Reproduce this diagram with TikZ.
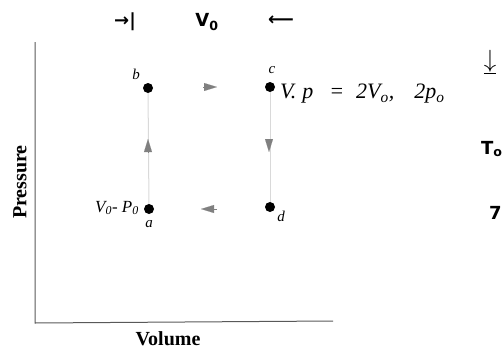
\documentclass[tikz,border=0pt]{standalone}
\usepackage{fontspec}
\setmainfont{Liberation Serif}
\newfontfamily\hand{DejaVu Sans}
\usetikzlibrary{arrows.meta}
\begin{document}
\begin{tikzpicture}[x=1pt,y=-1pt,
  dot/.style={circle,fill=black,inner sep=0pt,minimum size=10pt},
  seg/.style={draw=black!15,line width=1pt},
  tip/.style={-{Triangle[length=13pt,width=8pt]},draw=black!50,line width=0.1pt,color=black!50},
  lab/.style={inner sep=0pt,font=\itshape\fontsize{15}{15}\selectfont},
  hw/.style={inner sep=0pt,font=\hand\bfseries\fontsize{18}{18}\selectfont}]
\useasboundingbox (0,0) rectangle (503,351);
\clip (0,0) rectangle (503,351);
% axes
\coordinate (o) at (35,323);
\coordinate (ytop) at (35,42);
\coordinate (xend) at (333,321);
\draw[black!65,line width=1pt] (ytop) -- (o) -- (xend);
\node[inner sep=0pt,font=\bfseries\fontsize{20}{20}\selectfont] (xl) at (168,339) {Volume};
\node[inner sep=0pt,font=\bfseries\fontsize{20}{20}\selectfont,rotate=90] (yl) at (20,182) {Pressure};
% points
\node[dot] (b) at (148,88) {};
\node[dot] (c) at (270,87) {};
\node[dot] (a) at (149,209) {};
\node[dot] (d) at (270,207) {};
\draw[seg] (a) -- (b);
\draw[seg] (c) -- (d);
% direction marks
\coordinate (t1s) at (203,87); \coordinate (t1e) at (217,87);
\coordinate (t2s) at (269,139); \coordinate (t2e) at (269,152);
\coordinate (t3s) at (217,209); \coordinate (t3e) at (201,209);
\coordinate (t4s) at (148,152); \coordinate (t4e) at (148,139);
\draw[tip] (t1s) -- (t1e);
\draw[tip] (t2s) -- (t2e);
\draw[tip] (t3s) -- (t3e);
\draw[tip] (t4s) -- (t4e);
% labels
\node[lab] (lb) at (136,74) {b};
\node[lab] (lc) at (272,70) {c};
\node[lab] (la) at (149,224) {a};
\node[lab] (ld) at (281,216) {d};
\node[inner sep=0pt,anchor=east,font=\itshape\fontsize{17}{17}\selectfont] (lv0) at (139,208) {V\textsubscript{0}- P\textsubscript{0}};
\node[inner sep=0pt,anchor=west,font=\itshape\fontsize{22}{22}\selectfont] (lvp) at (280,94) {V.\hspace{6pt}p\hspace{16pt}=\hspace{12pt}2V\textsubscript{o},\hspace{20pt}2p\textsubscript{o}};
% top handwriting
\node[hw] (h1) at (125,22) {→|};
\node[hw] (h2) at (207,22) {V\textsubscript{0}};
\node[hw] (h3) at (281,21) {⟵};
% right edge fragments
\node[hw,font=\hand\bfseries\fontsize{26}{26}\selectfont] (r1) at (490,62) {$\underline{\downarrow}$};
\node[hw,anchor=west] (r2) at (481,149) {T\textsubscript{o}};
\node[hw,anchor=west] (r3) at (489,213) {7};
\end{tikzpicture}
\end{document}
